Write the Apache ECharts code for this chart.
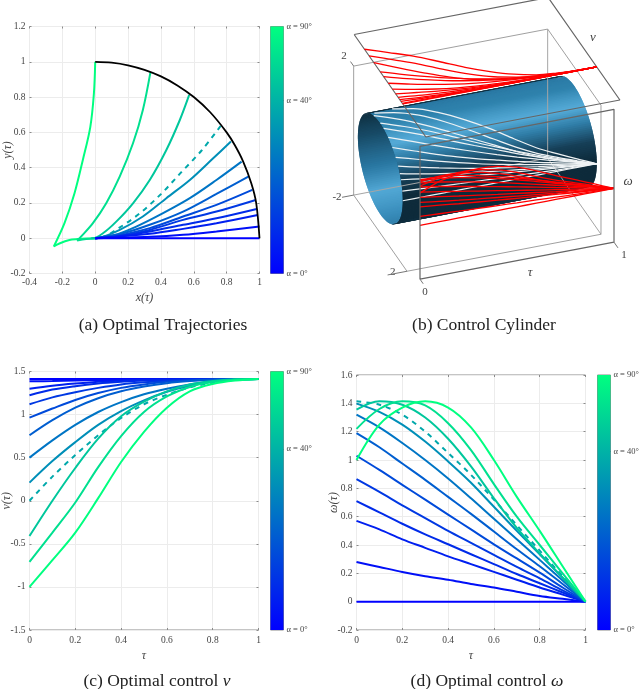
<!DOCTYPE html>
<html>
<head>
<meta charset="utf-8">
<style>
  html, body { margin: 0; padding: 0; background: #fff; }
  #chart { width: 640px; height: 689px; }
</style>
<script src="https://cdn.jsdelivr.net/npm/echarts@6/dist/echarts.min.js"></script>
</head>
<body>
<div id="chart"></div>
<script>
// sample points shared by v(tau) and omega(tau)
const tau = [0, 0.1, 0.2, 0.3, 0.4, 0.5, 0.6, 0.7, 0.8, 0.9, 1];

// one row per curve, blue (alpha = 0) first, green (alpha = 90) last, row 9 is the dashed one
const vCurves = [
  [1.414, 1.414, 1.414, 1.414, 1.414, 1.414, 1.414, 1.414, 1.414, 1.414, 1.414],
  [1.386, 1.39, 1.395, 1.4, 1.405, 1.41, 1.412, 1.413, 1.414, 1.414, 1.414],
  [1.3, 1.335, 1.36, 1.38, 1.395, 1.405, 1.41, 1.412, 1.414, 1.414, 1.414],
  [1.225, 1.29, 1.33, 1.36, 1.38, 1.395, 1.402, 1.41, 1.412, 1.414, 1.414],
  [1.12, 1.2, 1.26, 1.31, 1.35, 1.375, 1.39, 1.4, 1.408, 1.413, 1.414],
  [0.965, 1.07, 1.17, 1.25, 1.31, 1.35, 1.38, 1.395, 1.405, 1.413, 1.414],
  [0.76, 0.935, 1.08, 1.19, 1.27, 1.325, 1.365, 1.39, 1.405, 1.412, 1.414],
  [0.5, 0.7, 0.88, 1.03, 1.145, 1.235, 1.3, 1.35, 1.385, 1.405, 1.414],
  [0.21, 0.46, 0.68, 0.88, 1.04, 1.165, 1.265, 1.335, 1.38, 1.405, 1.414],
  [0, 0.28, 0.53, 0.76, 0.96, 1.12, 1.23, 1.315, 1.37, 1.405, 1.414],
  [-0.41, 0, 0.38, 0.72, 0.98, 1.15, 1.27, 1.35, 1.39, 1.41, 1.414],
  [-0.71, -0.37, -0.02, 0.39, 0.75, 1.03, 1.21, 1.32, 1.38, 1.405, 1.414],
  [-1, -0.69, -0.37, 0.03, 0.45, 0.8, 1.08, 1.27, 1.355, 1.395, 1.414]
];

const omegaCurves = [
  [0, 0, 0, 0, 0, 0, 0, 0, 0, 0, 0],
  [0.28, 0.245, 0.21, 0.18, 0.155, 0.125, 0.1, 0.07, 0.04, 0.02, 0],
  [0.57, 0.51, 0.44, 0.38, 0.32, 0.265, 0.21, 0.155, 0.1, 0.05, 0],
  [0.71, 0.63, 0.55, 0.475, 0.405, 0.335, 0.265, 0.195, 0.13, 0.065, 0],
  [0.865, 0.775, 0.68, 0.59, 0.5, 0.415, 0.33, 0.245, 0.165, 0.08, 0],
  [1.03, 0.93, 0.825, 0.72, 0.615, 0.51, 0.405, 0.305, 0.205, 0.1, 0],
  [1.19, 1.09, 0.975, 0.86, 0.74, 0.62, 0.495, 0.37, 0.25, 0.125, 0],
  [1.32, 1.23, 1.12, 1.0, 0.87, 0.73, 0.585, 0.44, 0.295, 0.15, 0],
  [1.398, 1.34, 1.25, 1.13, 0.99, 0.84, 0.67, 0.5, 0.335, 0.17, 0],
  [1.414, 1.39, 1.32, 1.2, 1.05, 0.895, 0.72, 0.54, 0.36, 0.18, 0],
  [1.355, 1.414, 1.39, 1.3, 1.15, 0.955, 0.73, 0.52, 0.34, 0.17, 0],
  [1.22, 1.36, 1.414, 1.385, 1.26, 1.07, 0.83, 0.6, 0.4, 0.2, 0],
  [1.0, 1.25, 1.37, 1.414, 1.37, 1.23, 1.0, 0.74, 0.5, 0.25, 0]
];

// trajectories in panel (a), from the arc end down to the origin
const xCurves = [
  [1, 0],
  [1, 0.738, 0.535, 0.332, 0],
  [0.989, 0.738, 0.535, 0.332, 0],
  [0.983, 0.738, 0.535, 0.332, 0.128, 0],
  [0.977, 0.738, 0.535, 0.332, 0.128, 0],
  [0.956, 0.738, 0.535, 0.332, 0.128, 0],
  [0.932, 0.738, 0.535, 0.332, 0.169, 0],
  [0.891, 0.738, 0.576, 0.413, 0.25, 0.108, 0],
  [0.826, 0.718, 0.576, 0.433, 0.29, 0.149, 0.026, 0],
  [0.763, 0.65, 0.52, 0.4, 0.27, 0.14, 0.06, 0],
  [0.572, 0.515, 0.433, 0.332, 0.23, 0.128, 0.047, -0.014, -0.024, 0],
  [0.336, 0.29, 0.23, 0.149, 0.067, -0.014, -0.085, -0.11, -0.055, 0],
  [0, -0.008, -0.03, -0.075, -0.126, -0.187, -0.252, -0.218, -0.157, -0.106, -0.055, 0]
];
const yCurves = [
  [0, 0],
  [0.066, 0.038, 0.019, 0.008, 0],
  [0.132, 0.085, 0.053, 0.025, 0],
  [0.166, 0.113, 0.076, 0.038, 0.008, 0],
  [0.217, 0.151, 0.104, 0.047, 0.009, 0],
  [0.274, 0.189, 0.123, 0.057, 0.013, 0],
  [0.349, 0.251, 0.151, 0.076, 0.028, 0],
  [0.434, 0.33, 0.227, 0.142, 0.066, 0.015, 0],
  [0.548, 0.453, 0.33, 0.227, 0.123, 0.047, 0.002, 0],
  [0.636, 0.5, 0.37, 0.25, 0.14, 0.055, 0.012, 0],
  [0.812, 0.67, 0.5, 0.33, 0.198, 0.094, 0.028, 0, 0, 0],
  [0.94, 0.727, 0.538, 0.349, 0.198, 0.085, 0.01, -0.013, -0.005, 0],
  [1, 0.82, 0.63, 0.445, 0.255, 0.085, -0.047, -0.03, -0.01, -0.005, -0.002, 0]
];

const arcX = [0, 0.1, 0.2, 0.3, 0.4, 0.5, 0.6, 0.7, 0.8, 0.85, 0.9, 0.95, 0.98, 1];
const arcY = [1, 0.995, 0.98, 0.954, 0.917, 0.866, 0.8, 0.714, 0.6, 0.527, 0.436, 0.312, 0.199, 0];

// where each curve sits on the colour bar, and the bar's labels
const colorPos = [0, 0.06, 0.12, 0.17, 0.22, 0.29, 0.37, 0.46, 0.56, 0.66, 0.78, 0.88, 1];
const barTickPos = [0, 0.7, 1];
const barTickText = ['α = 0°', 'α = 40°', 'α = 90°'];
const dashedCurve = 9;

const FONT = 'Liberation Serif';
const winter = t => echarts.color.lerp(t, ['rgb(0,0,255)', 'rgb(0,255,128)']);
const pairs = (xs, ys) => xs.map((x, i) => [x, ys[i]]);

// panel (b): linear projection of (tau, v, omega) to page pixels
const project = (t, v, w) => [
  380.33 + 194 * t + 15.87 * v,
  168.67 - 37 * t + 22.67 * v - 32.25 * w
];

const grids = [
  { left: 29.5, top: 26.5, width: 230, height: 247 },   // a
  { left: 270.5, top: 26.5, width: 13, height: 247 },
  { left: 29.5, top: 371.5, width: 229, height: 258.5 }, // c
  { left: 270.5, top: 371.5, width: 13, height: 258.5 },
  { left: 356.5, top: 375, width: 229, height: 255 },   // d
  { left: 597.5, top: 375, width: 13, height: 255 },
  { left: 320, top: 0, width: 320, height: 340 }        // b, axes in page pixels
].map(g => Object.assign({
  show: true, borderColor: '#8a8a8a', borderWidth: 1, backgroundColor: 'transparent', outerBoundsMode: 'none'
}, g));
grids[6].show = false;

function plotAxis(gridIndex, min, max, interval, name, extra) {
  return Object.assign({
    type: 'value', gridIndex, min, max, interval,
    name, nameLocation: 'middle', nameMoveOverlap: false,
    nameTextStyle: { fontFamily: FONT, fontStyle: 'italic', fontSize: 12, color: '#444' },
    axisLine: { show: false, onZero: false },
    axisTick: { show: true, inside: true, length: 2, lineStyle: { color: '#8a8a8a' } },
    axisLabel: { fontFamily: FONT, fontSize: 9.5, color: '#444', margin: 4 },
    splitLine: { show: true, lineStyle: { color: '#ececec', width: 1 } }
  }, extra);
}

// tick marks only, for the opposite side of the plot box
function mirrorAxis(gridIndex, min, max, interval, position) {
  return {
    type: 'value', gridIndex, min, max, interval, position,
    axisLine: { show: false, onZero: false },
    axisTick: { show: true, inside: true, length: 2, lineStyle: { color: '#8a8a8a' } },
    axisLabel: { show: false },
    splitLine: { show: false }
  };
}

function barAxes(gridIndex) {
  return {
    x: { type: 'category', gridIndex, data: [''], show: false },
    y: {
      type: 'value', gridIndex, min: 0, max: 1, position: 'right',
      axisLine: { show: false },
      axisTick: { show: true, inside: true, length: 2, customValues: [0.7], lineStyle: { color: '#555' } },
      axisLabel: {
        fontFamily: FONT, fontSize: 8.5, color: '#444', margin: 3,
        customValues: barTickPos,
        formatter: v => barTickText[barTickPos.indexOf(v)]
      },
      splitLine: { show: false }
    }
  };
}

const labelBelow = { fontFamily: FONT, fontSize: 9.5, color: '#444', margin: 5.5 };
const xAxes = [
  plotAxis(0, -0.4, 1, 0.2, 'x(τ)', { nameGap: 18 }),
  barAxes(1).x,
  plotAxis(2, 0, 1, 0.2, 'τ', { nameGap: 20, axisLabel: labelBelow }),
  barAxes(3).x,
  plotAxis(4, 0, 1, 0.2, 'τ', { nameGap: 20, axisLabel: labelBelow }),
  barAxes(5).x,
  { type: 'value', gridIndex: 6, min: 320, max: 640, show: false },
  mirrorAxis(0, -0.4, 1, 0.2, 'top'),
  mirrorAxis(2, 0, 1, 0.2, 'top'),
  mirrorAxis(4, 0, 1, 0.2, 'top')
];
const yAxes = [
  plotAxis(0, -0.2, 1.2, 0.2, 'y(τ)', { nameGap: 16 }),
  barAxes(1).y,
  plotAxis(2, -1.5, 1.5, 0.5, 'v(τ)', { nameGap: 17 }),
  barAxes(3).y,
  plotAxis(4, -0.2, 1.6, 0.2, 'ω(τ)', { nameGap: 17 }),
  barAxes(5).y,
  { type: 'value', gridIndex: 6, min: 0, max: 340, inverse: true, show: false },
  mirrorAxis(0, -0.2, 1.2, 0.2, 'right'),
  mirrorAxis(2, -1.5, 1.5, 0.5, 'right'),
  mirrorAxis(4, -0.2, 1.6, 0.2, 'right')
];

const series = [];

function addLine(axisIndex, data, color, width, opts) {
  series.push(Object.assign({
    type: 'line', xAxisIndex: axisIndex, yAxisIndex: axisIndex,
    data, showSymbol: false, symbol: 'none', smooth: 0.33, silent: true,
    lineStyle: { color, width }
  }, opts));
}

// colour bars
[1, 3, 5].forEach(i => {
  series.push({
    type: 'bar', xAxisIndex: i, yAxisIndex: i, data: [1], barWidth: '100%', silent: true,
    itemStyle: {
      color: new echarts.graphic.LinearGradient(0, 1, 0, 0, [
        { offset: 0, color: winter(0) }, { offset: 1, color: winter(1) }
      ])
    }
  });
});

// panel (a), arc on top, low alpha drawn last
for (let i = xCurves.length - 1; i >= 0; i--) {
  addLine(0, pairs(xCurves[i], yCurves[i]), winter(colorPos[i]), 2, {
    lineStyle: { color: winter(colorPos[i]), width: 2, type: i === dashedCurve ? [5, 5] : 'solid' }
  });
}
addLine(0, pairs(arcX, arcY), '#000', 1.8, {});

// panels (c) and (d)
vCurves.forEach((row, i) => {
  const style = c => ({ color: c, width: 2, type: i === dashedCurve ? [5, 5] : 'solid' });
  addLine(2, pairs(tau, row), winter(colorPos[i]), 2, { lineStyle: style(winter(colorPos[i])) });
  addLine(4, pairs(tau, omegaCurves[i]), winter(colorPos[i]), 2, { lineStyle: style(winter(colorPos[i])) });
});

// panel (b)
const BOX_V = 1.68, BOX_W = 2;
const TOP_W = 3, TOP_VMIN = -1.65, TOP_VMAX = 2.87;
const FRONT_V = 2.5, FRONT_WMIN = -1.67, FRONT_WMAX = 2.45;
const frame = (pts, color, width) => addLine(6, pts.map(p => project(p[0], p[1], p[2])), color, width, { smooth: false });

frame([[1, -BOX_V, BOX_W], [1, -BOX_V, -BOX_W], [1, BOX_V, -BOX_W]], '#a5a5a5', 1);
frame([[0, -BOX_V, -BOX_W], [1, -BOX_V, -BOX_W]], '#a5a5a5', 1);
frame([[0, -BOX_V, -BOX_W], [0, -BOX_V, BOX_W], [1, -BOX_V, BOX_W], [1, BOX_V, BOX_W], [1, BOX_V, -BOX_W], [0, BOX_V, -BOX_W], [0, -BOX_V, -BOX_W]], '#a0a0a0', 1);

// cylinder of radius sqrt(2): shading bands by angle around the tau axis
const EDGE_ANGLE = 117;
const innerStops = [[EDGE_ANGLE, '#0e2b3b'], [150, '#103345'], [180, '#174a66'], [215, '#2a78a3'], [240, '#52a8d5'], [270, '#3a8ebc'], [305, '#2a78a3']];
const outerStops = [[-60, '#0e2b3b'], [5, '#0e2b3b'], [25, '#163f57'], [45, '#2f7ca6'], [62, '#55abd8'], [88, '#2f82ad'], [EDGE_ANGLE, '#2a78a3']];
function shade(stops, a) {
  for (let i = 1; i < stops.length; i++) {
    if (a <= stops[i][0]) {
      const f = (a - stops[i - 1][0]) / (stops[i][0] - stops[i - 1][0]);
      return echarts.color.lerp(f, [stops[i - 1][1], stops[i][1]]);
    }
  }
  return stops[stops.length - 1][1];
}
const RADIUS = Math.SQRT2;
const bands = [];
// each band overlaps the next one, so no seams show between them
for (let a = EDGE_ANGLE; a < 301; a += 2) bands.push([a, a + 4, 0]);
for (let a = -60; a < EDGE_ANGLE; a += 2) bands.push([a, Math.min(a + 4, EDGE_ANGLE), 1]);
series.push({
  type: 'custom', xAxisIndex: 6, yAxisIndex: 6, data: bands, silent: true, clip: false,
  encode: { x: 0, y: 1 },
  renderItem: (params, api) => {
    const a0 = api.value(0) * Math.PI / 180, a1 = api.value(1) * Math.PI / 180;
    const c = api.value(2) ? shade(outerStops, api.value(0) + 1) : shade(innerStops, api.value(0) + 1);
    const corner = (t, a) => api.coord(project(t, RADIUS * Math.cos(a), RADIUS * Math.sin(a)));
    return {
      type: 'polygon',
      shape: { points: [corner(0, a0), corner(1, a0), corner(1, a1), corner(0, a1)] },
      style: { fill: c }
    };
  }
});

// white curves on the cylinder, only the part that faces the viewer
const angleOf = (v, w) => Math.atan2(w, v) * 180 / Math.PI;
vCurves.forEach((row, i) => {
  const w = omegaCurves[i];
  const pts = [];
  tau.forEach((t, k) => {
    const a = angleOf(row[k], w[k]);
    if (a > EDGE_ANGLE) return;
    if (k > 0 && !pts.length) {
      // curve comes out from behind the silhouette between two samples
      const prev = angleOf(row[k - 1], w[k - 1]);
      const f = (prev - EDGE_ANGLE) / (prev - a);
      pts.push(project(
        tau[k - 1] + f * (t - tau[k - 1]),
        row[k - 1] + f * (row[k] - row[k - 1]),
        w[k - 1] + f * (w[k] - w[k - 1])
      ));
    }
    pts.push(project(t, row[k], w[k]));
  });
  addLine(6, pts, '#eef2f4', 1.2, {});
});

// red curves on the two planes
frame([[0, TOP_VMIN, TOP_W], [1, TOP_VMIN, TOP_W], [1, TOP_VMAX, TOP_W], [0, TOP_VMAX, TOP_W], [0, TOP_VMIN, TOP_W]], '#666', 1.2);
vCurves.forEach(row => {
  addLine(6, tau.map((t, k) => project(t, row[k], TOP_W)), '#ff0000', 1.3, {});
});
omegaCurves.forEach(row => {
  addLine(6, tau.map((t, k) => project(t, FRONT_V, row[k])), '#ff0000', 1.3, {});
});
frame([[0, FRONT_V, FRONT_WMIN], [1, FRONT_V, FRONT_WMIN], [1, FRONT_V, FRONT_WMAX], [0, FRONT_V, FRONT_WMAX], [0, FRONT_V, FRONT_WMIN]], '#666', 1.2);

// short ticks next to the panel (b) numbers
frame([[0, -BOX_V, BOX_W], [0, -BOX_V - 0.2, BOX_W]], '#777', 1);
frame([[0, -BOX_V, -BOX_W], [-0.06, -BOX_V, -BOX_W]], '#777', 1);
frame([[0, BOX_V, -BOX_W], [-0.1, BOX_V, -BOX_W]], '#777', 1);
frame([[0, FRONT_V, FRONT_WMIN], [0, FRONT_V + 0.2, FRONT_WMIN]], '#777', 1);
frame([[1, FRONT_V, FRONT_WMIN], [1, FRONT_V + 0.25, FRONT_WMIN]], '#777', 1);

const captionStyle = {
  fontFamily: FONT, fontSize: 17.5, fontWeight: 'normal', color: '#222',
  rich: { i: { fontFamily: FONT, fontStyle: 'italic', fontSize: 17.5, color: '#222' } }
};
const caption = (text, left, top) => ({ text, left, top, textAlign: 'center', textStyle: captionStyle, padding: 0 });

const label3d = (text, x, y, italic) => ({
  type: 'text', x, y,
  style: {
    text, fontFamily: FONT, fontSize: italic ? 13 : 11, fontStyle: italic ? 'italic' : 'normal',
    fill: '#444', textAlign: 'center', textVerticalAlign: 'middle'
  }
});

const chart = echarts.init(document.getElementById('chart'), null, { renderer: 'canvas' });
chart.setOption({
  animation: false,
  backgroundColor: '#fff',
  title: [
    caption('(a) Optimal Trajectories', 163, 316),
    caption('(b) Control Cylinder', 484, 316),
    caption('(c) Optimal control {i|v}', 157, 672),
    caption('(d) Optimal control {i|ω}', 487, 672)
  ],
  grid: grids,
  xAxis: xAxes,
  yAxis: yAxes,
  series,
  graphic: [
    label3d('2', 344, 56),
    label3d('-2', 337, 197),
    label3d('2', 392.7, 271.7),
    label3d('0', 425, 292),
    label3d('1', 624, 255),
    label3d('τ', 530, 273, true),
    label3d('v', 593, 38, true),
    label3d('ω', 628, 182, true)
  ]
});
</script>
</body>
</html>
